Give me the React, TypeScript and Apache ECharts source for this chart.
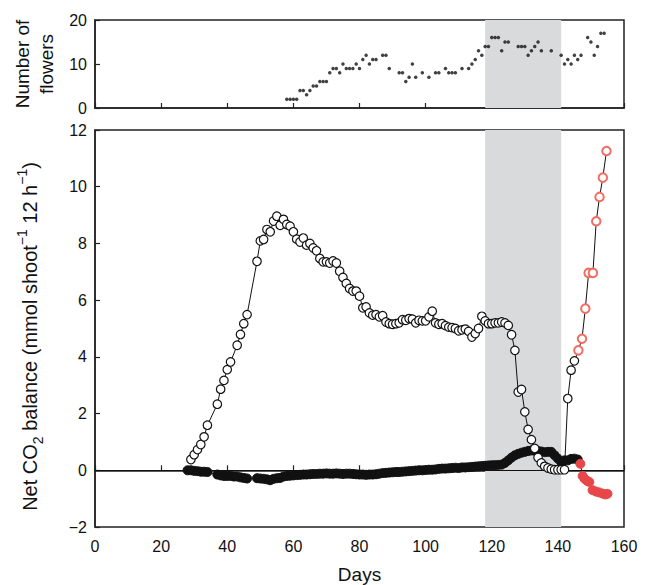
import React, { useEffect, useRef } from "react";
import * as echarts from "echarts";

// Top panel: number of flowers
const flowerDays = [58,59,60,61,62,63,64,65,66,67,68,69,70,71,72,73,74,75,76,77,78,79,80,81,82,83,84,85,87,88,89,92,93,94,95,96,97,99,101,103,104,106,107,108,109,111,113,114,115,116,117,118,119,120,121,122,123,124,125,128,129,130,131,132,133,134,135,138,141,142,143,144,145,146,147,149,150,151,152,153,154];
const flowerCounts = [2,2,2,2,4,4,3,4,5,5,6,6,6,8,9,9,8,10,9,9,9,10,9,11,12,10,11,11,12,12,9,8,8,6,7,10,7,8,7,8,8,9,8,8,8,9,9,10,11,13,12,14,14,16,16,16,13,15,15,14,14,14,12,13,14,15,13,13,12,10,11,10,12,11,12,16,15,12,14,17,17];

// Main panel: open circles (light period net CO2)
const lightDays = [29,30,31,32,33,34,37,38,39,40,41,43,44,45,46,49,50,51,52,53,54,55,56,57,58,59,60,61,62,63,64,65,66,67,68,69,70,71,72,73,74,75,76,77,78,79,80,81,82,83,84,85,86,87,88,89,90,91,92,93,94,95,96,97,98,99,100,101,102,103,104,105,106,107,108,109,110,111,112,113,114,115,116,117,118,119,120,121,122,123,124,125,126,127,128,129,130,131,132,133,134,135,136,137,138,139,140,141,142,143,144,145];
const lightNet = [0.38,0.55,0.73,0.91,1.18,1.59,2.33,2.86,3.17,3.55,3.82,4.41,4.79,5.17,5.49,7.37,8.09,8.14,8.49,8.41,8.79,8.96,8.64,8.85,8.67,8.61,8.41,8.15,8.05,8.19,7.94,8.0,7.84,7.74,7.47,7.35,7.35,7.31,7.38,7.31,7.02,6.8,6.59,6.41,6.32,6.32,6.14,5.73,5.76,5.55,5.47,5.49,5.41,5.45,5.23,5.17,5.15,5.17,5.2,5.31,5.29,5.35,5.33,5.2,5.29,5.27,5.27,5.41,5.61,5.2,5.15,5.17,5.1,5.05,5.03,5.0,4.92,4.95,4.98,4.9,4.7,4.82,5.0,5.43,5.27,5.17,5.17,5.2,5.2,5.23,5.2,5.11,4.78,4.23,2.76,2.85,2.06,1.44,1.08,0.77,0.45,0.26,0.14,0.08,0.04,0.02,0.02,0.02,0.02,2.53,3.53,3.86];
const lightDaysRed = [146.2,147.3,148.3,149.3,150.6,151.6,152.6,153.6,154.7];
const lightNetRed = [4.23,4.64,5.7,6.96,6.96,8.78,9.64,10.32,11.26];

// Main panel: filled circles (dark period net CO2)
const darkDays = [28,29,30,31,32,33,34,37,38,39,40,41,42,43,44,45,46,49,50,51,52,53,54,55,56,57,58,59,60,61,62,63,64,65,66,67,68,69,70,71,72,73,74,75,76,77,78,79,80,81,82,83,84,85,86,87,88,89,90,91,92,93,94,95,96,97,98,99,100,101,102,103,104,105,106,107,108,109,110,111,112,113,114,115,116,117,118,119,120,121,122,123,124,125,126,127,128,129,130,131,132,133,134,135,136,137,138,139,140,141,142,143,144,145,146];
const darkNet = [0.0,0.0,-0.02,-0.03,-0.05,-0.05,-0.06,-0.15,-0.18,-0.2,-0.2,-0.2,-0.22,-0.22,-0.25,-0.27,-0.29,-0.28,-0.29,-0.3,-0.32,-0.35,-0.3,-0.28,-0.27,-0.22,-0.2,-0.19,-0.18,-0.17,-0.16,-0.15,-0.15,-0.14,-0.13,-0.13,-0.12,-0.12,-0.11,-0.12,-0.12,-0.11,-0.12,-0.13,-0.12,-0.12,-0.13,-0.14,-0.15,-0.15,-0.16,-0.15,-0.15,-0.14,-0.12,-0.1,-0.09,-0.08,-0.07,-0.06,-0.06,-0.05,-0.04,-0.03,-0.02,-0.01,0.0,0.0,0.01,0.02,0.02,0.03,0.05,0.06,0.06,0.07,0.08,0.09,0.08,0.1,0.1,0.11,0.12,0.13,0.14,0.15,0.16,0.17,0.18,0.18,0.19,0.2,0.26,0.35,0.45,0.53,0.58,0.62,0.65,0.68,0.7,0.69,0.68,0.66,0.64,0.65,0.65,0.53,0.41,0.29,0.35,0.35,0.4,0.41,0.38];
const darkDaysRed = [146.8,147.5,148.1,148.8,149.5,150.5,151.5,152.5,153.5,154.3,155];
const darkNetRed = [0.23,-0.2,-0.3,-0.37,-0.41,-0.7,-0.75,-0.78,-0.82,-0.85,-0.83];

const shadeStart = 118;
const shadeEnd = 141;

const FONT = "Liberation Sans";
const RED_OPEN = "#f26d63";
const RED_FILL = "#e8474a";

export default function App() {
  const ref = useRef<HTMLDivElement>(null);
  useEffect(() => {
    if (!ref.current) return;
    const chart = echarts.init(ref.current, null, { renderer: "svg" });

    const flowers = flowerDays.map((d, i) => [d, flowerCounts[i]]);
    const lightData: any[] = lightDays.map((d, i) => [d, lightNet[i]]);
    lightDaysRed.forEach((d, i) =>
      lightData.push({ value: [d, lightNetRed[i]], itemStyle: { borderColor: RED_OPEN, borderWidth: 2, color: "#fff" } })
    );
    const darkData: any[] = darkDays.map((d, i) => [d, darkNet[i]]);
    darkDaysRed.forEach((d, i) =>
      darkData.push({ value: [d, darkNetRed[i]], itemStyle: { color: RED_FILL, borderColor: RED_FILL } })
    );

    const axisLine = { show: true, lineStyle: { color: "#222", width: 1.5 } };
    const axisTick = { show: true, inside: true, length: 5, lineStyle: { color: "#222", width: 1.2 } };
    const labelStyle = { fontFamily: FONT, fontSize: 16, color: "#111" };
    const shade = {
      silent: true,
      itemStyle: { color: "#d9dadc" },
      data: [[{ xAxis: shadeStart }, { xAxis: shadeEnd }]],
    };

    chart.setOption({
      animation: false,
      backgroundColor: "#fff",
      grid: [
        { left: 95, right: 31, top: 20, height: 88, outerBoundsMode: "none", containLabel: false, show: true, borderColor: "#222", borderWidth: 1.5, backgroundColor: "transparent" },
        { left: 95, right: 31, top: 130, height: 397, outerBoundsMode: "none", containLabel: false, show: true, borderColor: "#222", borderWidth: 1.5, backgroundColor: "transparent" },
      ],
      xAxis: [
        {
          gridIndex: 0, type: "value", min: 0, max: 160, interval: 20,
          axisLine, axisTick, axisLabel: { show: false }, splitLine: { show: false },
        },
        {
          gridIndex: 1, type: "value", min: 0, max: 160, interval: 20,
          axisLine, axisTick, axisLabel: { ...labelStyle, margin: 11 }, splitLine: { show: false },
          name: "Days", nameLocation: "middle", nameGap: 38,
          nameTextStyle: { fontFamily: FONT, fontSize: 19, color: "#111" },
        },
      ],
      yAxis: [
        {
          gridIndex: 0, type: "value", min: 0, max: 20, interval: 10,
          axisLine, axisTick, axisLabel: { ...labelStyle, margin: 8 }, splitLine: { show: false },
          name: "Number of\nflowers", nameLocation: "middle", nameGap: 29, nameRotate: 90,
          nameTextStyle: { fontFamily: FONT, fontSize: 19, color: "#111", lineHeight: 24 },
        },
        {
          gridIndex: 1, type: "value", min: -2, max: 12, interval: 2,
          axisLine, axisTick,
          axisLabel: { ...labelStyle, margin: 8, formatter: (v: number) => (v < 0 ? "\u2212" + Math.abs(v) : String(v)) },
          splitLine: { show: false },
          name: "Net CO{sub|2} balance (mmol shoot{sup|\u22121} 12 h{sup|\u22121})",
          nameLocation: "middle", nameGap: 50, nameRotate: 90,
          nameTextStyle: {
            fontFamily: FONT, fontSize: 20, color: "#111", lineHeight: 30,
            padding: [0, 16, 0, 0],
            rich: {
              sub: { fontFamily: FONT, fontSize: 14, color: "#111", verticalAlign: "bottom", lineHeight: 16 },
              sup: { fontFamily: FONT, fontSize: 14, color: "#111", verticalAlign: "top", lineHeight: 16 },
            },
          },
        },
      ],
      series: [
        {
          type: "scatter", xAxisIndex: 0, yAxisIndex: 0, data: flowers,
          symbol: "circle", symbolSize: 3.5, itemStyle: { color: "#111" }, z: 3,
          markArea: shade,
        },
        {
          type: "line", xAxisIndex: 1, yAxisIndex: 1, data: darkData,
          symbol: "circle", symbolSize: 9, showAllSymbol: true,
          lineStyle: { color: "#111", width: 1 },
          itemStyle: { color: "#111", borderColor: "#111", borderWidth: 1 },
          z: 3,
          markArea: shade,
          markLine: {
            silent: true, symbol: ["none", "none"], z: 2,
            label: { show: false },
            lineStyle: { color: "#111", width: 1, type: "solid" },
            data: [{ yAxis: 0 }],
          },
        },
        {
          type: "line", xAxisIndex: 1, yAxisIndex: 1, data: lightData,
          symbol: "circle", symbolSize: 8.5, showAllSymbol: true,
          lineStyle: { color: "#111", width: 1 },
          itemStyle: { color: "#fff", borderColor: "#111", borderWidth: 1.2 },
          z: 4,
        },
      ],
    });
    return () => chart.dispose();
  }, []);
  return <div ref={ref} style={{ position: "fixed", left: 0, top: 0, width: 655, height: 585 }} />;
}
